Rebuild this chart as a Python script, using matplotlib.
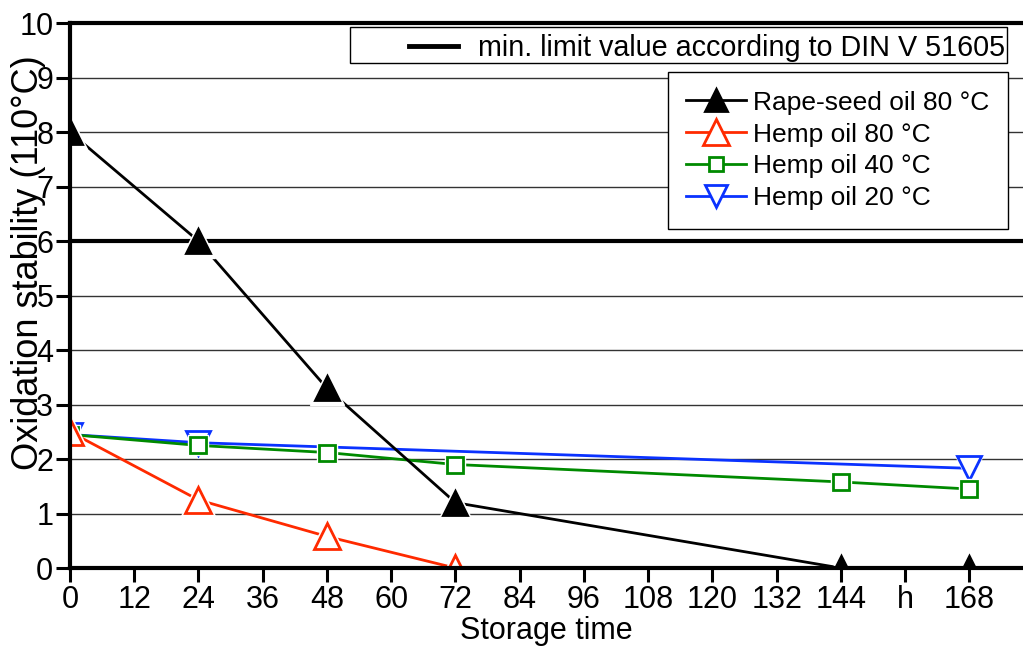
import matplotlib
matplotlib.use("Agg")
import matplotlib.pyplot as plt
from matplotlib.lines import Line2D
from matplotlib.patches import Rectangle

plt.rcParams['font.family'] = ['Liberation Sans', 'DejaVu Sans']

# Storage time in hours and measured oxidation stability (h at 110 °C)
rape80_t = [0, 24, 48, 72, 144, 168]
rape80_v = [8.0, 6.0, 3.3, 1.2, 0.0, 0.0]

hemp80_t = [0, 24, 48, 72]
hemp80_v = [2.5, 1.25, 0.58, 0.0]

hemp40_t = [0, 24, 48, 72, 144, 168]
hemp40_v = [2.45, 2.25, 2.12, 1.9, 1.58, 1.45]

hemp20_t = [0, 24, 168]
hemp20_v = [2.45, 2.3, 1.83]

limit_value = 6.0
limit_label = 'min. limit value according to DIN V 51605'

xticks = list(range(0, 169, 12))
xtick_labels = [("h" if t == 156 else str(t)) for t in xticks]
yticks = list(range(0, 11))

W, H = 1023, 659
fig = plt.figure(figsize=(W / 100, H / 100), dpi=100)
ax = fig.add_axes([0.0684, 0.138, 0.9316, 0.827])

ax.set_xlim(0, 178)
ax.set_ylim(0, 10)

# horizontal grid, with the limit value drawn heavier
for y in yticks[1:-1]:
    if y == limit_value:
        continue
    ax.axhline(y, color='#333333', lw=1.0, zorder=1)
ax.axhline(limit_value, color='black', lw=3.0, zorder=1.5)

# (t, values, colour, marker, face, size, white gap around marker, label)
series = [
    (rape80_t, rape80_v, 'black', '^', 'black', 17, 7, 'Rape-seed oil 80 °C'),
    (hemp80_t, hemp80_v, '#ff2a00', '^', 'none', 19, 7, 'Hemp oil 80 °C'),
    (hemp40_t, hemp40_v, '#008a00', 's', 'none', 11, 4, 'Hemp oil 40 °C'),
    (hemp20_t, hemp20_v, '#0a32ff', 'v', 'none', 17, 5, 'Hemp oil 20 °C'),
]
order = [3, 2, 1, 0]
handles = {}
for z, idx in enumerate(order):
    t, v, c, m, fc, ms, gap, lab = series[idx]
    base = 3 + z * 3
    ax.plot(t, v, color=c, lw=2.0, zorder=base)
    ax.plot(t, v, ls='none', marker=m, ms=ms + gap, mfc='white', mec='white',
            zorder=base + 1)
    ax.plot(t, v, ls='none', marker=m, ms=ms, mfc=fc, mec=c, mew=2.0,
            zorder=base + 2)
    handles[idx] = Line2D([], [], color=c, lw=2.0, marker=m,
                          ms=ms * 0.95, mfc=(fc if fc != 'none' else 'white'),
                          mec=c, mew=2.0)

ax.set_xticks(xticks)
ax.set_xticklabels(xtick_labels)
ax.set_yticks(yticks)
ax.tick_params(axis='both', labelsize=22, length=10, width=2.2, pad=2,
               direction='out')

for s in ['left', 'bottom', 'top']:
    ax.spines[s].set_linewidth(3.0)
    ax.spines[s].set_zorder(20)
ax.spines['right'].set_visible(False)

ax.set_xlabel('Storage time', fontsize=22, labelpad=1)
ax.set_ylabel('Oxidation stability (110°C)', fontsize=26)
ax.yaxis.set_label_coords(-0.025, 0.56)

# boxed key for the limit line
def fx(px):
    return px / W

def fy(py):
    return 1 - py / H

fig.add_artist(Rectangle((fx(350), fy(63)), fx(1007) - fx(350),
                         fy(27) - fy(63), transform=fig.transFigure,
                         facecolor='white', edgecolor='black', lw=1.0,
                         zorder=30))
fig.add_artist(Line2D([fx(409), fx(458)], [fy(45.5), fy(45.5)],
                      transform=fig.transFigure, color='black', lw=3.5,
                      zorder=31))
fig.text(fx(478), fy(45.5), limit_label, fontsize=20.7, ha='left',
         va='center_baseline', zorder=31)

leg2 = ax.legend([handles[i] for i in range(4)],
                 [series[i][7] for i in range(4)],
                 loc='upper right', bbox_to_anchor=(0.984, 0.910),
                 fontsize=19, frameon=True, fancybox=False,
                 edgecolor='black', framealpha=1, handlelength=2.27,
                 borderpad=0.7, handletextpad=0.27, labelspacing=0.3,
                 borderaxespad=0)
leg2.get_frame().set_linewidth(1.0)
leg2.set_zorder(30)

fig.savefig('out.png', dpi=100)
